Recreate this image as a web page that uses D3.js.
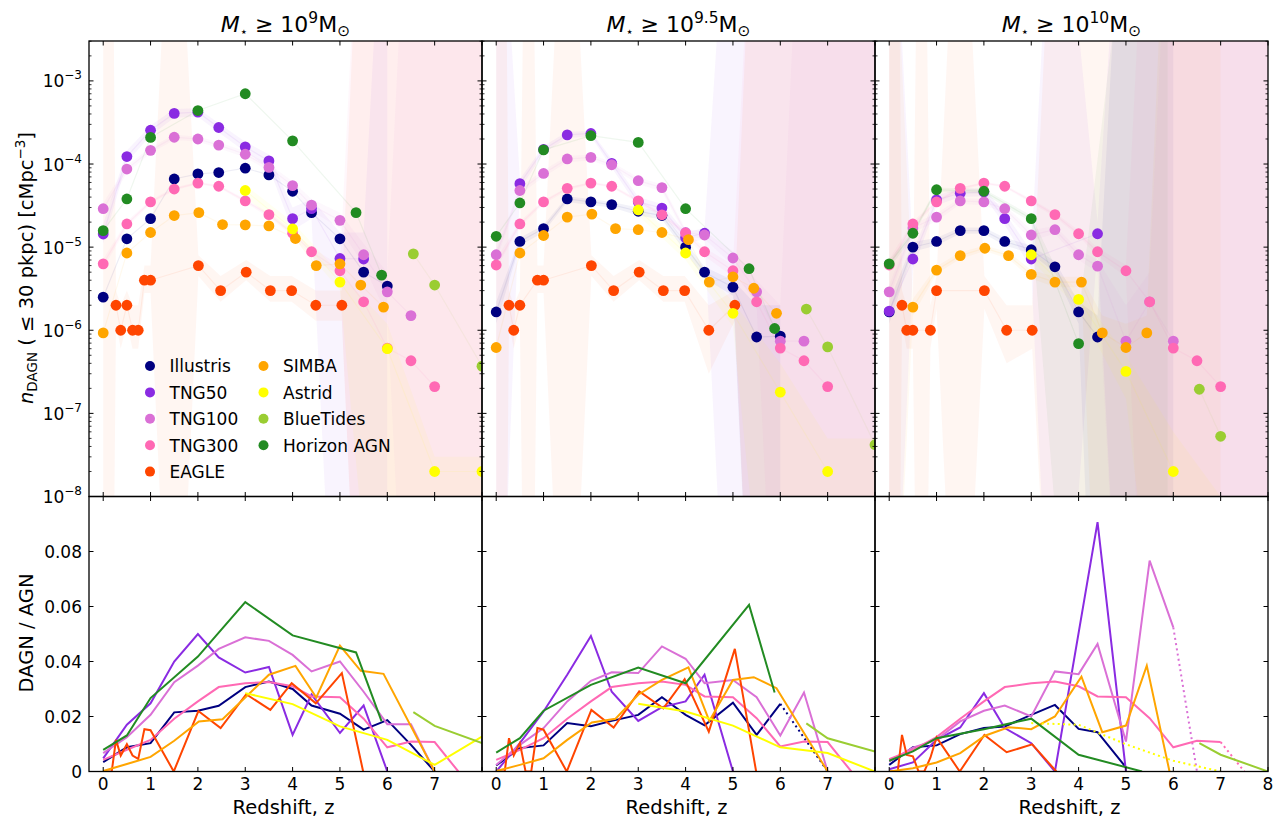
<!DOCTYPE html>
<html><head><meta charset="utf-8">
<script src="https://cdn.jsdelivr.net/npm/d3@7"></script>
<style>body{margin:0;background:#fff;} text{font-family:"DejaVu Sans",sans-serif;fill:#000;}</style>
</head><body><svg id="c" width="1275" height="818"></svg>
<script>
// ---------------- DATA ----------------
const panelTitles = ["9", "9.5", "10"];
const seriesNames = ["Illustris","TNG50","TNG100","TNG300","EAGLE","SIMBA","Astrid","BlueTides","Horizon AGN"];
const seriesColors = ["#000080","#8a2be2","#da70d6","#ff69b4","#ff4500","#ffa500","#ffff00","#9acd32","#228b22"];
const xTickLabels = [[0,1,2,3,4,5,6,7],[0,1,2,3,4,5,6,7],[0,1,2,3,4,5,6,7,8]];
const yTopTickExps = [-8,-7,-6,-5,-4,-3];
const yBotTicks = [0,0.02,0.04,0.06,0.08];

const zTNG = [0,0.5,1,1.5,2,2.44,3,3.5,4,4.4,5,5.5,6,6.5,7,7.5];
const zEAGLE = [0,0.1,0.18,0.27,0.37,0.5,0.62,0.74,0.87,1.0,1.49,2.01,2.48,3.02,3.53,3.98,4.49,5.04,5.49];
const zSIMBA = [0,0.5,1,1.5,2.02,2.52,3,3.5,4.06,4.5,5,5.44,5.92,7];
const zAstrid = [3,4,5,6,7,8];
const zBlueTides = [6.55,7,8];
const zHorizon = [0,0.5,1,2,3,4,5.34,5.88];

// number densities n_DAGN per panel [M9, M9.5, M10]
const nIllustris = [
 [2.5e-6,1.26e-5,2.2e-5,6.6e-5,7.6e-5,7.9e-5,8.9e-5,7.4e-5,4.7e-5,2.6e-5,1.26e-5,5.0e-6,3.4e-6,null,null,null],
 [1.66e-6,1.17e-5,1.67e-5,3.8e-5,3.5e-5,3.25e-5,2.7e-5,2.4e-5,1.0e-5,5.0e-6,3.3e-6,8.3e-7,8.5e-7,null,null,null],
 [1.66e-6,1.0e-5,1.17e-5,1.58e-5,1.58e-5,1.17e-5,9.3e-6,5.8e-6,1.66e-6,8.3e-7,null,null,null,null,null,null]];
const nTNG50 = [
 [1.44e-5,1.23e-4,2.55e-4,4.06e-4,4.2e-4,2.75e-4,1.61e-4,1.09e-4,2.2e-5,2.9e-5,7.3e-6,7.2e-6,null,null,null,null],
 [null,5.8e-5,1.5e-4,2.24e-4,2.33e-4,1.02e-4,3.5e-5,2.95e-5,1.3e-5,1.47e-5,null,null,null,null,null,null],
 [1.7e-6,7.2e-6,3.7e-5,4.45e-5,4.6e-5,2.2e-5,7.2e-6,null,null,1.45e-5,null,null,null,null,null,null]];
const nTNG100 = [
 [2.9e-5,8.7e-5,1.46e-4,2.1e-4,2.0e-4,1.69e-4,1.31e-4,9.1e-5,5.5e-5,3.2e-5,2.1e-5,8.1e-6,2.9e-6,1.5e-6,null,null],
 [8.1e-6,4.8e-5,7.7e-5,1.15e-4,1.2e-4,9.8e-5,6.3e-5,5.2e-5,1.5e-5,1.4e-5,7.4e-6,2.9e-6,7.4e-7,7.4e-7,null,null],
 [2.9e-6,1.7e-5,2.3e-5,3.6e-5,3.5e-5,2.9e-5,1.4e-5,1.62e-5,8.1e-6,5.9e-6,7.4e-7,2.2e-6,7.4e-7,null,null,null]];
const nTNG300 = [
 [6.3e-6,1.9e-5,3.5e-5,5.0e-5,5.9e-5,5.4e-5,3.6e-5,2.46e-5,1.47e-5,8.8e-6,5.2e-6,2.2e-6,6.1e-7,4.3e-7,2.1e-7,null],
 [6.1e-6,1.9e-5,3.5e-5,5.1e-5,5.9e-5,5.4e-5,3.6e-5,2.45e-5,1.47e-5,8.8e-6,5.2e-6,2.2e-6,6.1e-7,4.3e-7,2.1e-7,null],
 [6.1e-6,1.9e-5,3.5e-5,5.1e-5,5.9e-5,5.4e-5,3.6e-5,2.46e-5,1.45e-5,8.8e-6,5.2e-6,2.2e-6,6.1e-7,4.3e-7,2.1e-7,null]];
const nEAGLE = [
 [null,null,null,2e-6,1e-6,2e-6,1e-6,1e-6,4e-6,4e-6,null,6e-6,3e-6,5e-6,3e-6,3e-6,2e-6,2e-6,null],
 [null,null,null,2e-6,1e-6,2e-6,null,null,4e-6,4e-6,null,6e-6,3e-6,5e-6,3e-6,3e-6,1e-6,2e-6,null],
 [null,null,null,2e-6,1e-6,1e-6,null,null,1e-6,3e-6,null,3e-6,1e-6,1e-6,null,null,null,null,null]];
const nSIMBA = [
 [9.3e-7,8.5e-6,1.5e-5,2.4e-5,2.6e-5,1.87e-5,1.85e-5,1.8e-5,1.27e-5,6.0e-6,6.3e-6,3.5e-6,1.9e-6,null],
 [6.2e-7,8.5e-6,1.38e-5,2.3e-5,2.5e-5,1.67e-5,1.62e-5,1.5e-5,1.23e-5,3.8e-6,4.4e-6,3.2e-6,1.6e-6,null],
 [null,1.9e-6,5.3e-6,7.9e-6,9.7e-6,7.9e-6,4.7e-6,3.8e-6,3.8e-6,9.3e-7,6.2e-7,9.3e-7,null,null]];
const nAstrid = [
 [4.8e-5,1.66e-5,3.8e-6,6.0e-7,2e-8,2e-8],
 [2.8e-5,8.5e-6,1.6e-6,1.8e-7,2e-8,null],
 [8.1e-6,2.35e-6,3.2e-7,2e-8,null,null]];
const nBlueTides = [
 [8.3e-6,3.5e-6,3.7e-7],
 [1.8e-6,6.3e-7,4.2e-8],
 [1.95e-7,5.3e-8,null]];
const nHorizon = [
 [1.58e-5,3.8e-5,2.09e-4,4.4e-4,7.0e-4,1.9e-4,2.6e-5,4.6e-6],
 [1.35e-5,3.4e-5,1.48e-4,2.19e-4,1.82e-4,2.9e-5,5.5e-6,1.05e-6],
 [6.3e-6,1.47e-5,4.9e-5,4.7e-5,2.2e-5,6.9e-7,null,null]];

// DAGN / AGN fractions per panel
const fIllustris = [
 [0.0034,0.0088,0.0103,0.0215,0.0221,0.0239,0.0307,0.0327,0.030,0.024,0.021,0.0152,0.0187,0.0097,0,null],
 [0.0022,0.0085,0.0095,0.0176,0.0165,0.0184,0.0206,0.027,0.0206,0.0168,0.025,0.0133,0.0246,null,0,null],
 [0.0024,0.0088,0.0095,0.0136,0.0158,0.0164,0.0206,0.0242,0.0155,0.0143,0.0015,null,null,null,null,null]];
const fTNG50 = [
 [0.0048,0.017,0.0248,0.040,0.050,0.0415,0.036,0.038,0.0133,0.028,0.014,0.024,0,null,null,null],
 [0,0.0103,0.0218,0.0352,0.0493,0.029,0.0184,0.0234,0.0255,0.0352,0,null,null,null,null,null],
 [0.0008,0.0033,0.0115,0.016,0.0285,0.0158,0.0103,0,null,0.0907,0,null,null,null,null,null]];
const fTNG100 = [
 [0.0067,0.0125,0.0206,0.0325,0.0385,0.0446,0.0488,0.0475,0.0424,0.0364,0.040,0.029,0.0172,0.0172,0,null],
 [0.0024,0.0097,0.0158,0.0255,0.033,0.0361,0.0358,0.0455,0.041,0.0321,0.0333,0.027,0.0131,0.0287,0,null],
 [0.0036,0.0087,0.0115,0.0182,0.0221,0.024,0.02,0.0364,0.0354,0.0464,0.0109,0.0767,0.0524,0,null,null]];
const fTNG300 = [
 [0.0042,0.0079,0.0115,0.0192,0.0255,0.0307,0.0321,0.0325,0.031,0.0273,0.027,0.0192,0.0088,0.0109,0.0107,0],
 [0.0042,0.0079,0.0121,0.0192,0.0255,0.0307,0.0321,0.0327,0.0315,0.0273,0.027,0.0194,0.0091,0.0109,0.0107,0],
 [0.0045,0.0079,0.0125,0.0192,0.0255,0.0307,0.0321,0.0327,0.031,0.0273,0.027,0.0194,0.0088,0.0112,0.0107,0]];
const fEAGLE = [
 [0,0,0,0.0115,0.0058,0.0099,0.0058,0.0046,0.0154,0.015,0,0.022,0.0158,0.0281,0.0224,0.0321,0.0248,0.0358,0],
 [0,0,0,0.0121,0.0058,0.0103,0,0,0.0158,0.0152,0,0.0224,0.016,0.0291,0.023,0.0336,0.0145,0.0446,0],
 [0,0,0,0.0133,0.006,0.0055,0,0,0.005,0.0124,0,0.0133,0.007,0.0099,0,null,null,null,null]];
const fSIMBA = [
 [0.0002,0.0027,0.0053,0.0112,0.0182,0.019,0.0269,0.0352,0.0384,0.0269,0.0458,0.0366,0.0355,0],
 [0.0002,0.0024,0.0048,0.0115,0.0178,0.0192,0.0279,0.0333,0.0379,0.0184,0.0333,0.0343,0.0303,0],
 [0,0.0012,0.0033,0.0067,0.013,0.0161,0.0154,0.02,0.0345,0.0143,0.0167,0.0385,0,null]];
const fAstrid = [
 [0.0285,0.0245,0.0164,0.0115,0.0024,0.0127],
 [0.0246,0.0218,0.0167,0.0088,0.0067,0],
 [0.0176,0.017,0.0099,0.0039,0,null]];
const fBlueTides = [
 [0.0216,0.0166,0.0103],
 [0.0175,0.0121,0.0073],
 [0.0103,0.0061,0]];
const fHorizon = [
 [0.0079,0.0131,0.0267,0.0418,0.0616,0.0495,0.0433,0.0182],
 [0.0069,0.0121,0.0221,0.0315,0.0378,0.0321,0.0606,0.0287],
 [0.0039,0.0073,0.0121,0.0154,0.0192,0.0061,0,null]];

// redshift from which the ratio line is dotted (per panel)
const dotFrom = {Illustris:[null,6,null], TNG100:[null,null,6], TNG300:[null,null,7], Astrid:[null,null,3]};

// uncertainty bands: [series, z, lower, upper]  (0 = unbounded below, 1 = unbounded above)
const bandsM9 = [
 ["EAGLE",[0,0.1,0.18,0.27,0.37,0.5,0.62,0.74,0.87,1.0,1.49,2.01,2.48,3.02,3.53,3.98,4.49,5.04,5.49,8],
  [0,0,0,1.2e-6,6e-7,1.2e-6,6e-7,6e-7,2.8e-6,2.8e-6,0,4.5e-6,2.2e-6,4e-6,2.2e-6,2.2e-6,1.3e-6,1.3e-6,0,0],
  [1,1,1,3e-6,2e-6,3e-6,2e-6,2e-6,6e-6,6e-6,1,8e-6,4.5e-6,7e-6,4.5e-6,4.5e-6,3e-6,3e-6,1,1]],
 ["TNG50",[0,0.5,1,1.5,2,2.44,3,3.5,4,4.4,5,5.5,6],
  [1.1e-5,1.05e-4,2.2e-4,3.6e-4,3.7e-4,2.4e-4,1.4e-4,9e-5,1.6e-5,2.2e-5,0,0,0],
  [1.9e-5,1.45e-4,2.9e-4,4.6e-4,4.7e-4,3.1e-4,1.85e-4,1.3e-4,3e-5,3.8e-5,1.5e-5,1.5e-5,1]],
 ["TNG100",[0,0.5,1,1.5,2,2.44,3,3.5,4,4.4,5,5.5,6,6.5,7,8],
  [2.5e-5,7.8e-5,1.35e-4,1.95e-4,1.85e-4,1.55e-4,1.2e-4,8.2e-5,4.8e-5,2.7e-5,1.7e-5,6e-6,1.5e-6,0,0,0],
  [3.4e-5,9.6e-5,1.58e-4,2.25e-4,2.15e-4,1.83e-4,1.42e-4,1e-4,6.2e-5,3.8e-5,2.6e-5,1.1e-5,5e-6,1,1,1]],
 ["TNG300",[0,0.5,1,1.5,2,2.44,3,3.5,4,4.4,5,5.5,6,6.5,7,8],
  [5.5e-6,1.75e-5,3.3e-5,4.8e-5,5.7e-5,5.2e-5,3.4e-5,2.3e-5,1.35e-5,7.8e-6,4.4e-6,0,0,0,0,0],
  [7.2e-6,2.05e-5,3.7e-5,5.2e-5,6.1e-5,5.6e-5,3.8e-5,2.6e-5,1.6e-5,9.8e-6,6.1e-6,1,1,1,1,1]],
 ["Astrid",[3,4,5,6,7,8],[4e-5,1.4e-5,3e-6,0,0,0],[5.6e-5,2e-5,4.8e-6,1.2e-6,3e-8,3e-8]]];
const bandsM95 = [
 ["EAGLE",[0,0.1,0.18,0.27,0.37,0.5,0.62,0.74,0.87,1.0,1.49,2.01,2.48,3.02,3.53,3.98,4.49,5.04,5.49,8],
  [0,0,0,1.2e-6,6e-7,1.2e-6,0,0,2.8e-6,2.8e-6,0,4.5e-6,2.2e-6,4e-6,2.2e-6,2.2e-6,3e-7,1.3e-6,0,0],
  [1,1,1,3e-6,2e-6,3e-6,1,1,6e-6,6e-6,1,8e-6,4.5e-6,7e-6,4.5e-6,4.5e-6,2e-6,3e-6,1,1]],
 ["TNG50",[0,0.5,1,1.5,2,2.44,3,3.5,4,4.4,5,8],
  [0,5e-5,1.35e-4,2.05e-4,2.15e-4,9e-5,3e-5,2.6e-5,1.1e-5,1.25e-5,0,0],
  [1,6.6e-5,1.65e-4,2.45e-4,2.5e-4,1.15e-4,4e-5,3.3e-5,1.5e-5,1.7e-5,1,1]],
 ["Illustris",[0,0.5,1,1.5,2,2.44,3,3.5,4,4.4,5,5.5,6],
  [1.2e-6,1.05e-5,1.5e-5,3.5e-5,3.2e-5,3e-5,2.4e-5,2.15e-5,8.7e-6,4.2e-6,2.6e-6,0,0],
  [2.2e-6,1.3e-5,1.85e-5,4.1e-5,3.8e-5,3.5e-5,3e-5,2.65e-5,1.15e-5,5.8e-6,4e-6,2e-6,2e-6]],
 ["TNG100",[0,0.5,1,1.5,2,2.44,3,3.5,4,4.4,5,5.5,6,6.5,7,8],
  [7e-6,4.3e-5,7e-5,1.05e-4,1.1e-4,9e-5,5.7e-5,4.7e-5,1.35e-5,1.25e-5,6e-6,2e-6,0,0,0,0],
  [9.3e-6,5.3e-5,8.4e-5,1.25e-4,1.3e-4,1.06e-4,6.9e-5,5.7e-5,1.65e-5,1.55e-5,9e-6,4e-6,2e-6,1,1,1]],
 ["TNG300",[0,0.5,1,1.5,2,2.44,3,3.5,4,4.4,5,5.5,6,6.5,7,8],
  [5.5e-6,1.75e-5,3.3e-5,4.8e-5,5.7e-5,5.2e-5,3.4e-5,2.3e-5,1.35e-5,7.8e-6,4.4e-6,0,0,0,0,0],
  [7.2e-6,2.05e-5,3.7e-5,5.2e-5,6.1e-5,5.6e-5,3.8e-5,2.6e-5,1.6e-5,9.8e-6,6.1e-6,1,1,1,1,1]],
 ["Astrid",[3,4,5,6,7,8],[2.4e-5,7e-6,1.1e-6,0,0,0],[3.3e-5,1e-5,2.2e-6,4e-7,5e-8,5e-8]]];
const bandsM10 = [
 ["EAGLE",[0,0.1,0.18,0.27,0.37,0.5,0.62,0.74,0.87,1.0,1.49,2.01,2.48,3.02,3.53,8],
  [0,0,0,1.2e-6,6e-7,6e-7,0,0,6e-7,1.8e-6,0,1.8e-6,4e-7,6e-7,0,0],
  [1,1,1,3e-6,2e-6,2e-6,1,1,2e-6,4.5e-6,1,4.5e-6,2e-6,2e-6,1,1]],
 ["TNG50",[0,0.5,1,1.5,2,2.44,3,3.5,4.4,5,8],
  [0,5.5e-6,3.2e-5,4e-5,4.1e-5,1.85e-5,5.5e-6,0,1e-5,0,0],
  [1,9e-6,4.2e-5,5e-5,5.1e-5,2.6e-5,9e-6,1,2e-5,1,1]],
 ["Illustris",[0,0.5,1,1.5,2,2.44,3,3.5,4,4.4,5,6],
  [1.2e-6,8.8e-6,1.05e-5,1.45e-5,1.45e-5,1.05e-5,8.3e-6,5e-6,1.2e-6,0,0,0],
  [2.2e-6,1.15e-5,1.3e-5,1.72e-5,1.72e-5,1.3e-5,1.05e-5,6.7e-6,2.2e-6,1.5e-6,1,1]],
 ["Horizon AGN",[0,0.5,1,2,3,4,5.34,5.88],
  [5.5e-6,1.35e-5,4.6e-5,4.4e-5,2e-5,0,0,0],
  [7e-6,1.6e-5,5.2e-5,5e-5,2.4e-5,1.5e-6,1,1]],
 ["SIMBA",[0,0.5,1,1.5,2.02,2.52,3,3.5,4.06,4.5,5,5.44,5.92,7],
  [0,1.5e-6,4.8e-6,7.2e-6,9e-6,7.2e-6,4.2e-6,3.3e-6,3.3e-6,0,0,0,0,0],
  [1,2.4e-6,5.9e-6,8.7e-6,1.05e-5,8.7e-6,5.3e-6,4.4e-6,4.4e-6,1.5e-6,1.2e-6,1.5e-6,1,1]],
 ["TNG100",[0,0.5,1,1.5,2,2.44,3,3.5,4,4.4,5,5.5,6,6.5,7,8],
  [2.4e-6,1.5e-5,2.05e-5,3.3e-5,3.2e-5,2.6e-5,1.2e-5,1.45e-5,7e-6,5e-6,0,0,0,0,0,0],
  [3.5e-6,1.9e-5,2.55e-5,3.9e-5,3.8e-5,3.2e-5,1.6e-5,1.8e-5,9.3e-6,7e-6,2e-6,5e-6,1,1,1,1]],
 ["TNG300",[0,0.5,1,1.5,2,2.44,3,3.5,4,4.4,5,5.5,6,6.5,7,8],
  [5.5e-6,1.75e-5,3.3e-5,4.8e-5,5.7e-5,5.2e-5,3.4e-5,2.3e-5,1.35e-5,7.8e-6,4.4e-6,0,0,0,0,0],
  [7.2e-6,2.05e-5,3.7e-5,5.2e-5,6.1e-5,5.6e-5,3.8e-5,2.6e-5,1.6e-5,9.8e-6,6.1e-6,1,1,1,1,1]],
 ["Astrid",[3,4,5,6,7],[7e-6,1.8e-6,1.5e-7,0,0],[9.5e-6,3e-6,5e-7,6e-8,1e-8]]];

// ---------------- BUILD TABLE ----------------
const seriesZ = [zTNG,zTNG,zTNG,zTNG,zEAGLE,zSIMBA,zAstrid,zBlueTides,zHorizon];
const seriesN = [nIllustris,nTNG50,nTNG100,nTNG300,nEAGLE,nSIMBA,nAstrid,nBlueTides,nHorizon];
const seriesF = [fIllustris,fTNG50,fTNG100,fTNG300,fEAGLE,fSIMBA,fAstrid,fBlueTides,fHorizon];
const panelBands = [bandsM9, bandsM95, bandsM10];
const colorOf = name => seriesColors[seriesNames.indexOf(name)];

// ---------------- LAYOUT ----------------
const svg = d3.select("#c");
const panelX = [89, 482, 875], panelW = 393;
const topY0 = 41, topY1 = 496.5, botY1 = 771.5;
const tickFont = 17, labelFont = 19.5;

const defs = svg.append("defs");
[0,1,2].forEach(p => {
  defs.append("clipPath").attr("id","ct"+p).append("rect")
    .attr("x",panelX[p]).attr("y",topY0).attr("width",panelW).attr("height",topY1-topY0);
  defs.append("clipPath").attr("id","cb"+p).append("rect")
    .attr("x",panelX[p]).attr("y",topY1).attr("width",panelW).attr("height",botY1-topY1);
});

[0,1,2].forEach(p => {
  const x = d3.scaleLinear().domain([-0.3, 8]).range([panelX[p], panelX[p]+panelW]);
  const yT = d3.scaleLog().domain([1e-8, Math.pow(10,-2.52)]).range([topY1, topY0]);
  const yB = d3.scaleLinear().domain([0, 0.1]).range([botY1, topY1]);
  const yv = v => v <= 0 ? topY1 + 300 : (v >= 1 ? topY0 - 250 : yT(v));

  // ---- top panel ----
  const gt = svg.append("g").attr("clip-path", `url(#ct${p})`);
  panelBands[p].forEach(([name, zs, lo, hi]) => {
    const pts = zs.map((z,i)=>({z, lo:lo[i], hi:hi[i]}));
    gt.append("path").datum(pts)
      .attr("d", d3.area().x(d=>x(d.z)).y0(d=>yv(d.lo)).y1(d=>yv(d.hi)))
      .attr("fill", colorOf(name)).attr("fill-opacity", 0.05).attr("stroke","none");
  });
  seriesNames.forEach((name, s) => {
    const pts = seriesZ[s].map((z,i)=>({z, v:seriesN[s][p][i]})).filter(d=>d.v!=null);
    gt.append("path").datum(pts)
      .attr("d", d3.line().x(d=>x(d.z)).y(d=>yT(d.v)))
      .attr("fill","none").attr("stroke",seriesColors[s]).attr("stroke-opacity",0.07).attr("stroke-width",1.2);
  });
  seriesNames.forEach((name, s) => {
    const pts = seriesZ[s].map((z,i)=>({z, v:seriesN[s][p][i]})).filter(d=>d.v!=null);
    gt.selectAll(null).data(pts).join("circle")
      .attr("cx", d=>x(d.z)).attr("cy", d=>yT(d.v)).attr("r", 5.4)
      .attr("fill", seriesColors[s]);
  });

  // ---- bottom panel ----
  const gb = svg.append("g").attr("clip-path", `url(#cb${p})`);
  seriesNames.forEach((name, s) => {
    const pts = seriesZ[s].map((z,i)=>({z, v:seriesF[s][p][i]})).filter(d=>d.v!=null);
    const df = dotFrom[name] ? dotFrom[name][p] : null;
    const solid = [], dotted = [];
    for (let i=0;i<pts.length-1;i++){
      const seg = [pts[i], pts[i+1]];
      (df!=null && pts[i].z >= df - 1e-9 ? dotted : solid).push(seg);
    }
    const ln = d3.line().x(d=>x(d.z)).y(d=>yB(d.v));
    const path = segs => {
      let d = "", last = null;
      segs.forEach(sg => {
        if (last && last === sg[0]) d += "L" + x(sg[1].z) + "," + yB(sg[1].v);
        else d += ln(sg);
        last = sg[1];
      });
      return d;
    };
    if (solid.length) gb.append("path").attr("d", path(solid)).attr("fill","none")
      .attr("stroke",seriesColors[s]).attr("stroke-width",2);
    if (dotted.length) gb.append("path").attr("d", path(dotted)).attr("fill","none")
      .attr("stroke",seriesColors[s]).attr("stroke-width",2).attr("stroke-dasharray","2,3.3");
  });

  // ---- frames & ticks ----
  const ax = svg.append("g").attr("stroke","#000").attr("fill","none");
  ax.append("rect").attr("x",panelX[p]).attr("y",topY0).attr("width",panelW).attr("height",topY1-topY0).attr("stroke-width",1.3);
  ax.append("rect").attr("x",panelX[p]).attr("y",topY1).attr("width",panelW).attr("height",botY1-topY1).attr("stroke-width",1.3);
  const xl = panelX[p], xr = panelX[p]+panelW;
  for (let t=0;t<=8;t++){
    const xx = x(t);
    [[topY0,1],[topY1,-1],[topY1,1],[botY1,-1]].forEach(([yy,dir]) => {
      ax.append("line").attr("x1",xx).attr("x2",xx).attr("y1",yy).attr("y2",yy+dir*4.5).attr("stroke-width",1);
    });
  }
  yTopTickExps.forEach(e => {
    const yy = yT(Math.pow(10,e));
    ax.append("line").attr("x1",xl).attr("x2",xl+4.5).attr("y1",yy).attr("y2",yy).attr("stroke-width",1);
    ax.append("line").attr("x1",xr).attr("x2",xr-4.5).attr("y1",yy).attr("y2",yy).attr("stroke-width",1);
  });
  for (let e=-8;e<=-3;e++){
    for (let m=2;m<=9;m++){
      const v = m*Math.pow(10,e);
      if (v > Math.pow(10,-2.52)) continue;
      const yy = yT(v);
      ax.append("line").attr("x1",xl).attr("x2",xl+2.5).attr("y1",yy).attr("y2",yy).attr("stroke-width",0.8);
      ax.append("line").attr("x1",xr).attr("x2",xr-2.5).attr("y1",yy).attr("y2",yy).attr("stroke-width",0.8);
    }
  }
  yBotTicks.forEach(t => {
    const yy = yB(t);
    ax.append("line").attr("x1",xl).attr("x2",xl+4.5).attr("y1",yy).attr("y2",yy).attr("stroke-width",1);
    ax.append("line").attr("x1",xr).attr("x2",xr-4.5).attr("y1",yy).attr("y2",yy).attr("stroke-width",1);
  });

  xTickLabels[p].forEach(t => {
    svg.append("text").attr("x",x(t)).attr("y",790).attr("text-anchor","middle")
      .attr("font-size",tickFont).text(t);
  });
  svg.append("text").attr("x",panelX[p]+panelW/2 - 2).attr("y",814).attr("text-anchor","middle")
    .attr("font-size",labelFont).text("Redshift, z");

  const tt = svg.append("text").attr("x",panelX[p]+panelW/2).attr("y",31.5).attr("text-anchor","middle").attr("font-size",22);
  tt.append("tspan").attr("font-style","italic").text("M");
  tt.append("tspan").attr("dy",4).attr("font-size",13).text("⋆");
  tt.append("tspan").attr("dy",-4).text(" ≥ 10");
  tt.append("tspan").attr("dy",-9).attr("font-size",15.5).text(panelTitles[p]);
  tt.append("tspan").attr("dy",9).text("M");
  tt.append("tspan").attr("dy",4).attr("font-size",15.5).text("⊙");

  if (p === 0){
    yTopTickExps.forEach(e => {
      const t = svg.append("text").attr("x",82).attr("y",yT(Math.pow(10,e))+6.5).attr("text-anchor","end").attr("font-size",tickFont);
      t.append("tspan").text("10");
      t.append("tspan").attr("dy",-8).attr("font-size",12).text("−" + (-e));
    });
    yBotTicks.forEach(v => {
      svg.append("text").attr("x",82).attr("y",yB(v)+6.2).attr("text-anchor","end").attr("font-size",tickFont)
        .text(v === 0 ? "0" : v.toFixed(2));
    });
    const yl = svg.append("text").attr("transform","translate(33,268) rotate(-90)").attr("text-anchor","middle").attr("font-size",labelFont);
    yl.append("tspan").attr("font-style","italic").text("n");
    yl.append("tspan").attr("dy",4).attr("font-size",13.5).text("DAGN");
    yl.append("tspan").attr("dy",-4).text(" ( ≤ 30 pkpc) [cMpc");
    yl.append("tspan").attr("dy",-8).attr("font-size",13.5).text("−3");
    yl.append("tspan").attr("dy",8).text("]");
    svg.append("text").attr("transform","translate(33,633) rotate(-90)").attr("text-anchor","middle").attr("font-size",labelFont).text("DAGN / AGN");

    const lg = svg.append("g");
    seriesNames.forEach((name, s) => {
      const col = s < 5 ? 0 : 1, row = s < 5 ? s : s - 5;
      const lx = col === 0 ? 150 : 263.5, ly = 366 + row*26.4;
      lg.append("circle").attr("cx",lx).attr("cy",ly).attr("r",5).attr("fill",seriesColors[s]);
      lg.append("text").attr("x",lx+19.5).attr("y",ly+6.3).attr("font-size",17).text(name);
    });
  }
});
</script></body></html>
